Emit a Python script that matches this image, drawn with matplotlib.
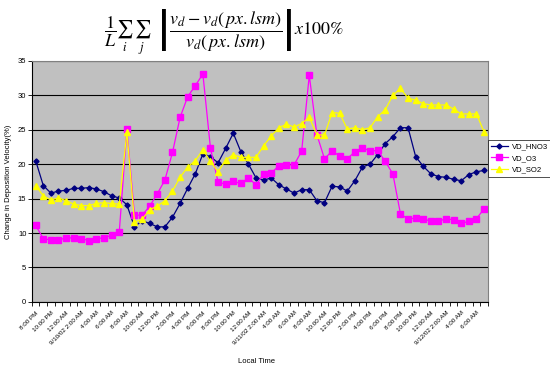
import matplotlib.pyplot as plt
import numpy as np

plt.rcParams['font.family'] = ['Liberation Sans', 'DejaVu Sans']
plt.rcParams['mathtext.fontset'] = 'stix'

# hourly values, 8 PM 9/9/02 through 7 AM 9/12/02
vd_hno3 = [20.5, 16.9, 15.8, 16.1, 16.2, 16.5, 16.5, 16.6, 16.4, 16.0,
           15.4, 15.1, 14.1, 10.9, 11.8, 11.4, 10.9, 10.9, 12.3, 14.3,
           16.5, 18.6, 21.5, 21.1, 20.2, 22.3, 24.5, 21.8, 20.0, 18.0,
           17.7, 18.0, 17.0, 16.4, 15.8, 16.3, 16.3, 14.7, 14.4, 16.8,
           16.7, 16.1, 17.6, 19.6, 20.0, 21.4, 23.0, 24.0, 25.3, 25.3,
           21.1, 19.7, 18.6, 18.2, 18.1, 17.8, 17.6, 18.5, 18.9, 19.1]
vd_o3 = [11.1, 9.2, 9.0, 9.0, 9.3, 9.3, 9.2, 8.9, 9.2, 9.3,
         9.7, 10.2, 25.1, 12.6, 12.6, 13.9, 15.7, 17.7, 21.7, 26.8,
         29.8, 31.4, 33.1, 22.3, 17.4, 17.1, 17.5, 17.2, 18.0, 17.0,
         18.6, 18.7, 19.8, 19.9, 19.9, 21.9, 32.9, 24.3, 20.8, 21.9,
         21.2, 20.8, 21.8, 22.4, 21.9, 22.0, 20.4, 18.6, 12.8, 12.0,
         12.2, 12.1, 11.7, 11.7, 12.1, 11.9, 11.4, 11.7, 12.1, 13.5]
vd_so2 = [16.9, 15.4, 14.8, 15.1, 14.7, 14.2, 14.0, 14.0, 14.3, 14.4,
          14.3, 14.2, 24.7, 11.6, 12.0, 13.4, 13.9, 14.7, 16.1, 18.1,
          19.6, 20.5, 22.1, 20.4, 18.9, 20.6, 21.4, 21.0, 21.0, 21.0,
          22.7, 24.1, 25.3, 25.8, 25.4, 25.9, 26.8, 24.3, 24.2, 27.5,
          27.4, 25.1, 25.3, 25.0, 25.3, 26.9, 27.9, 30.0, 31.0, 29.6,
          29.3, 28.8, 28.6, 28.6, 28.6, 28.0, 27.3, 27.3, 27.3, 24.7]

time_labels = ['8:00 PM', '10:00 PM', '12:00 AM', '9/10/02 2:00 AM', '4:00 AM',
               '6:00 AM', '8:00 AM', '10:00 AM', '12:00 PM', '2:00 PM',
               '4:00 PM', '6:00 PM', '8:00 PM', '10:00 PM', '12:00 AM',
               '9/11/02 2:00 AM', '4:00 AM', '6:00 AM', '8:00 AM', '10:00 AM',
               '12:00 PM', '2:00 PM', '4:00 PM', '6:00 PM', '8:00 PM',
               '10:00 PM', '12:00 AM', '9/12/02 2:00 AM', '4:00 AM', '6:00 AM']

x = np.arange(len(vd_hno3))

fig = plt.figure(figsize=(5.5, 3.76), dpi=100)
ax = fig.add_axes([0.058, 0.197, 0.829, 0.641])
ax.set_facecolor('#c0c0c0')

ax.plot(x, vd_hno3, color='#000080', lw=0.9, marker='D', ms=2.6, label='VD_HNO3')
ax.plot(x, vd_o3, color='#ff00ff', lw=0.9, marker='s', ms=4.5, label='VD_O3')
ax.plot(x, vd_so2, color='#ffff00', lw=0.9, marker='^', ms=4, label='VD_SO2')

ax.set_xlim(-0.5, len(x) - 0.5)
ax.set_ylim(0, 35)
ax.set_yticks(range(0, 36, 5))
ax.tick_params(axis='y', labelsize=5.5, length=3, width=0.6, pad=1)
ax.yaxis.grid(True, color='#000000', lw=0.8)
ax.set_axisbelow(True)

ax.set_xticks(x[::2])
ax.set_xticklabels(time_labels, rotation=45, ha='right', rotation_mode='anchor',
                   fontsize=4.5)
ax.set_xticks(np.arange(-0.5, len(x), 1), minor=True)
ax.tick_params(axis='x', which='major', length=0, pad=6)
ax.tick_params(axis='x', which='minor', length=3, width=0.6)

for s in ['top', 'right']:
    ax.spines[s].set_color('#808080')
for s in ['left', 'bottom']:
    ax.spines[s].set_linewidth(0.8)

ax.set_ylabel('Change in Deposition Velocity(%)', fontsize=5.5, labelpad=4)
fig.text(0.467, 0.035, 'Local Time', fontsize=5.5, ha='center')

leg = ax.legend(loc='upper left', bbox_to_anchor=(1.0, 0.672), fontsize=5.5,
                frameon=True, fancybox=False, edgecolor='black',
                borderaxespad=0, handlelength=2.2, handletextpad=0.5,
                borderpad=0.4, labelspacing=0.55)
leg.get_frame().set_linewidth(0.6)

fig.text(0.408, 0.915,
         r'$\dfrac{1}{L}\sum_i\;\sum_j\ \ \left|\dfrac{v_d-v_d(\,px.lsm)}{v_d(\,px.lsm)}\right|x100\%$',
         fontsize=13, ha='center', va='center')

fig.savefig('out.png', dpi=100)
